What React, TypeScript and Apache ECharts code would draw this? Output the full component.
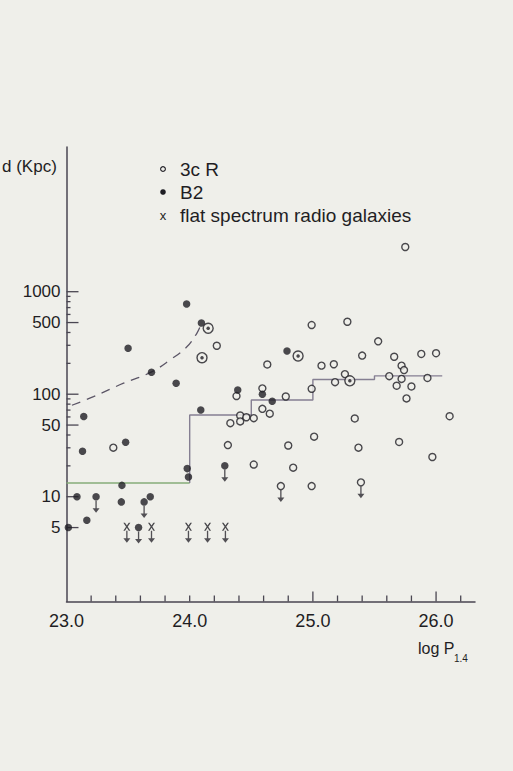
import React, { useEffect, useRef } from "react";
import * as echarts from "echarts";

// 3CR sources (open circles)
const threeCR: number[][] = [
  [25.75, 2730], [24.99, 473], [25.28, 509], [25.53, 328], [24.22, 297],
  [24.63, 195], [25.07, 190], [25.17, 196], [25.40, 238], [25.66, 232],
  [25.88, 247], [26.0, 251], [25.72, 190], [25.74, 172], [25.26, 157],
  [25.18, 131], [25.62, 150], [25.72, 141], [25.93, 144], [25.68, 121],
  [25.80, 119], [24.99, 113], [24.59, 114], [24.38, 96], [24.78, 95],
  [25.76, 91], [24.41, 62], [24.41, 54.3], [24.46, 59.6], [24.52, 58.4],
  [24.33, 52.2], [24.59, 72], [24.65, 64.6], [25.34, 58], [26.11, 61],
  [25.01, 38.5], [24.80, 31.6], [25.37, 30.1], [25.70, 34.2], [24.31, 31.9],
  [24.52, 20.6], [24.84, 19.2], [25.97, 24.4], [24.99, 12.7], [23.38, 30.1],
];
// 3CR upper limits
const threeCRLimits: number[][] = [[24.74, 12.7], [25.39, 13.8]];

// B2 sources (filled circles)
const b2: number[][] = [
  [23.975, 759], [24.095, 495], [23.50, 281], [23.69, 164], [23.89, 128],
  [24.39, 110], [23.14, 60.5], [24.09, 70.2], [24.79, 264], [24.59, 100],
  [24.67, 85.2], [23.13, 27.8], [23.48, 34.0], [23.98, 18.8], [23.99, 15.6],
  [23.45, 12.9], [23.085, 10.0], [23.445, 8.9], [23.68, 10.0], [23.165, 5.9],
  [23.015, 5.0],
];
// B2 upper limits
const b2Limits: number[][] = [[23.24, 10.0], [23.63, 8.9], [23.585, 5.0], [24.285, 20.0]];

// Sources in both samples (circle with dot)
const both: number[][] = [[24.15, 440], [24.10, 227], [24.88, 236], [25.30, 135]];

// Flat spectrum radio galaxies (all upper limits)
const flatLimits: number[][] = [[23.49, 5.1], [23.69, 5.1], [23.99, 5.1], [24.145, 5.1], [24.29, 5.1]];

// Dashed trend curve
const trendCurve: number[][] = [
  [23.044, 78], [23.219, 94.6], [23.463, 128], [23.687, 164], [23.841, 216],
  [23.977, 290], [24.058, 393], [24.085, 456],
];

// Median step line
const medianLow: number[][] = [[23.0, 13.6], [24.0, 13.6]];
const medianSteps: number[][] = [[24.0, 13.6], [24.0, 62.7], [24.5, 87.7], [25.0, 139], [25.5, 151], [26.05, 151]];

// Axis ticks
const xMinorTicks = [23.2, 23.4, 23.6, 23.8, 24.0, 24.2, 24.4, 24.6, 24.8, 25.2, 25.4, 25.6, 25.8, 26.2];
const xMajorTicks = [25.0, 26.0];
const yMajorTicks = [5, 10, 50, 100, 500, 1000];
const yMinorTicks = [20, 30, 40, 60, 70, 80, 90, 200, 300, 400, 600, 700, 800, 900];

const X_MIN = 23.0;
const X_MAX = 26.316;
const Y_MIN = 0.95;
const Y_MAX = 25800;

const INK = "#1f1e24";
const AXIS = "#4a4652";
const BG = "#efefea";
const FONT = '"Liberation Sans", Arial, sans-serif';

const ARROW = "path://M4.4,0 L5.6,0 L5.6,10 L8.2,10 L5,16 L1.8,10 L4.4,10 Z";
const XMARK = "path://M0,0 L2.3,0 L5,3.6 L7.7,0 L10,0 L6.2,5 L10,10 L7.7,10 L5,6.4 L2.3,10 L0,10 L3.8,5 Z";

export default function App() {
  const ref = useRef<HTMLDivElement>(null);

  useEffect(() => {
    if (!ref.current) return;
    const chart = echarts.init(ref.current, null, { renderer: "svg" });

    const yTickData = [
      ...yMajorTicks.map((v) => [X_MIN, v, 12, 1]),
      ...yMinorTicks.map((v) => [X_MIN, v, 4, 0]),
    ];
    const xTickData = [
      ...xMinorTicks.map((v) => [v, Y_MIN, 6]),
      ...xMajorTicks.map((v) => [v, Y_MIN, 10]),
    ];

    const option: any = {
      animation: false,
      backgroundColor: BG,
      grid: { left: 66.5, right: 38, top: 147, bottom: 169.5 },
      xAxis: {
        type: "value",
        min: X_MIN,
        max: X_MAX,
        interval: 1,
        splitLine: { show: false },
        axisTick: { show: false },
        axisLine: { lineStyle: { color: AXIS, width: 1.5 } },
        axisLabel: {
          showMaxLabel: false,
          margin: 10,
          color: INK,
          fontFamily: FONT,
          fontSize: 18,
          formatter: (v: number) => (Math.abs(v - Math.round(v)) < 1e-6 ? v.toFixed(1) : ""),
        },
      },
      yAxis: {
        type: "log",
        logBase: 10,
        min: Y_MIN,
        max: Y_MAX,
        splitLine: { show: false },
        axisTick: { show: false },
        axisLabel: { show: false },
        axisLine: { lineStyle: { color: AXIS, width: 1.5 } },
      },
      graphic: [
        { type: "text", left: 2, top: 158, style: { text: "d (Kpc)", fill: INK, font: `17px ${FONT}` } },
        { type: "circle", shape: { cx: 163, cy: 169, r: 2.4 }, style: { fill: "none", stroke: INK, lineWidth: 1.1 } },
        { type: "text", x: 180, y: 169, style: { text: "3c R", fill: INK, font: `19px ${FONT}`, verticalAlign: "middle" } },
        { type: "circle", shape: { cx: 163, cy: 192, r: 2.8 }, style: { fill: INK } },
        { type: "text", x: 180, y: 192, style: { text: "B2", fill: INK, font: `19px ${FONT}`, verticalAlign: "middle" } },
        { type: "text", x: 163, y: 215, style: { text: "x", fill: INK, font: `13px ${FONT}`, align: "center", verticalAlign: "middle" } },
        { type: "text", x: 180, y: 215, style: { text: "flat spectrum radio galaxies", fill: INK, font: `19px ${FONT}`, verticalAlign: "middle" } },
        { type: "text", x: 418, y: 648, style: { text: "log P", fill: INK, font: `16px ${FONT}`, verticalAlign: "middle" } },
        { type: "text", x: 454, y: 658, style: { text: "1.4", fill: INK, font: `10px ${FONT}`, verticalAlign: "middle" } },
      ],
      series: [
        {
          name: "y ticks",
          type: "custom",
          clip: false,
          silent: true,
          z: 3,
          data: yTickData,
          renderItem: (params: any, api: any) => {
            const p = api.coord([api.value(0), api.value(1)]);
            const len = api.value(2);
            const children: any[] = [
              { type: "line", shape: { x1: p[0], y1: p[1], x2: p[0] + len, y2: p[1] }, style: { stroke: AXIS, lineWidth: 1.3 } },
            ];
            if (api.value(3) === 1) {
              children.push({
                type: "text",
                x: p[0] - 6,
                y: p[1],
                style: { text: String(api.value(1)), fill: INK, font: `17px ${FONT}`, align: "right", verticalAlign: "middle" },
              });
            }
            return { type: "group", children };
          },
        },
        {
          name: "x ticks",
          type: "custom",
          clip: false,
          silent: true,
          z: 3,
          data: xTickData,
          renderItem: (params: any, api: any) => {
            const p = api.coord([api.value(0), api.value(1)]);
            const len = api.value(2);
            return { type: "line", shape: { x1: p[0], y1: p[1], x2: p[0], y2: p[1] - len }, style: { stroke: AXIS, lineWidth: 1.3 } };
          },
        },
        {
          name: "trend",
          type: "line",
          data: trendCurve,
          smooth: 0.4,
          symbol: "none",
          z: 2,
          lineStyle: { color: "#5b5566", width: 1.3, type: [9, 7] },
        },
        {
          name: "median low",
          type: "line",
          data: medianLow,
          symbol: "none",
          z: 2,
          lineStyle: { color: "#86ad78", width: 1.4 },
        },
        {
          name: "median",
          type: "line",
          data: medianSteps,
          step: "end",
          symbol: "none",
          z: 2,
          lineStyle: { color: "#857f92", width: 1.4 },
        },
        {
          name: "upper limits",
          type: "scatter",
          data: [...b2Limits, ...threeCRLimits, ...flatLimits],
          symbol: ARROW,
          symbolSize: [7, 12],
          symbolOffset: [0, 10],
          z: 4,
          itemStyle: { color: "#2a2830" },
        },
        {
          name: "3cR",
          type: "scatter",
          data: [...threeCR, ...threeCRLimits],
          symbol: "circle",
          symbolSize: 7,
          z: 5,
          itemStyle: { color: BG, borderColor: INK, borderWidth: 1.4 },
        },
        {
          name: "B2",
          type: "scatter",
          data: [...b2, ...b2Limits],
          symbol: "circle",
          symbolSize: 7.5,
          z: 5,
          itemStyle: { color: INK },
        },
        {
          name: "3cR & B2",
          type: "scatter",
          data: both,
          symbol: "circle",
          symbolSize: 10,
          z: 5,
          itemStyle: { color: BG, borderColor: INK, borderWidth: 1.4 },
        },
        {
          name: "3cR & B2 core",
          type: "scatter",
          data: both,
          symbol: "circle",
          symbolSize: 3.5,
          z: 6,
          itemStyle: { color: INK },
        },
        {
          name: "flat spectrum radio galaxies",
          type: "scatter",
          data: flatLimits,
          symbol: XMARK,
          symbolSize: [7, 8],
          z: 5,
          itemStyle: { color: INK },
        },
      ],
    };

    chart.setOption(option);
    return () => chart.dispose();
  }, []);

  return (
    <div style={{ position: "fixed", left: 0, top: 0, width: 513, height: 771, background: BG }}>
      <div ref={ref} style={{ width: 513, height: 771 }} />
    </div>
  );
}
